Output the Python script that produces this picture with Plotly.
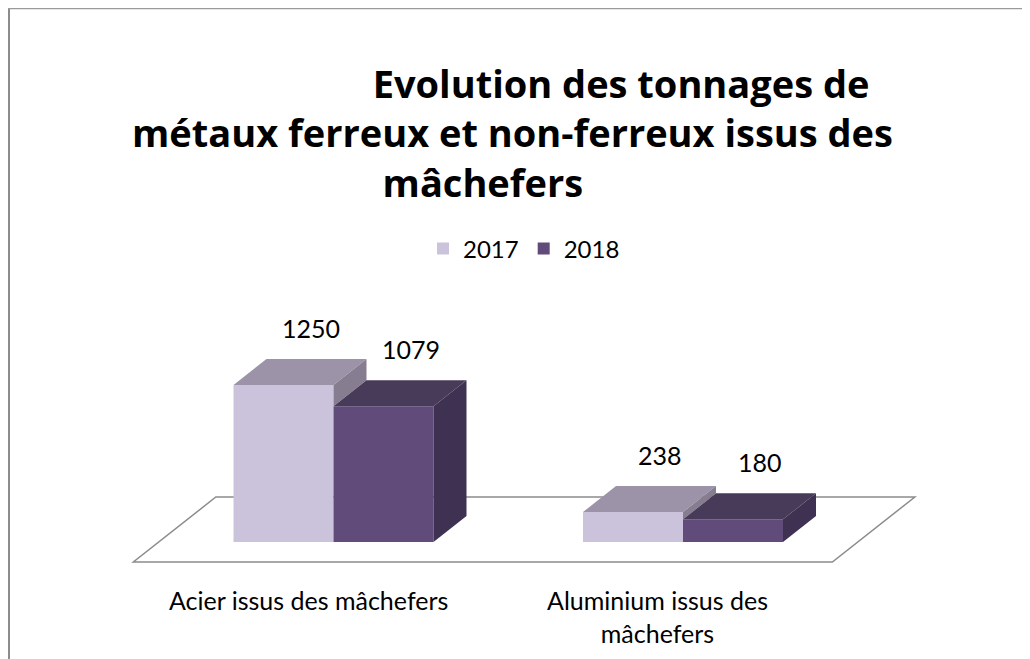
import plotly.graph_objects as go

# ---------------- data ----------------
categories = ["Acier issus des mâchefers", "Aluminium issus des<br>mâchefers"]
series_names = ["2017", "2018"]
values_2017 = [1250, 238]
values_2018 = [1079, 180]
series_values = [values_2017, values_2018]
title_lines = ["Evolution des tonnages de",
               "métaux ferreux et non-ferreux issus des",
               "mâchefers"]

# ---------------- styles ----------------
FRONT = ["#CBC3DC", "#604B7B"]
TOP = ["#9D93A8", "#483A59"]
SIDE = ["#877D91", "#3F3151"]
LABEL_FONT = "Lato, sans-serif"
TITLE_FONT = "Open Sans, sans-serif"

W, H = 1022, 651        # page body keeps an 8px margin
PX_CAT = 349.5          # pixels per category step
PX_VAL = 0.1257         # pixels per value unit
X0_PX, Y0_PX = 325.5, 534
BAR_W = 100 / PX_CAT
DX = 33 / PX_CAT        # 3D depth offset (x, in category units)
DY = 26 / PX_VAL        # 3D depth offset (y, in value units)
FLOOR_FRONT, FLOOR_BACK = -0.77, 1.73

x_range = [-X0_PX / PX_CAT, (W - X0_PX) / PX_CAT]
y_range = [-(H - Y0_PX) / PX_VAL, Y0_PX / PX_VAL]

fig = go.Figure()
xs = list(range(len(categories)))
n = len(series_names)

# front faces
for s, (name, vals) in enumerate(zip(series_names, series_values)):
    fig.add_trace(go.Bar(
        x=xs, y=vals, name=name, width=BAR_W, offset=(s - n / 2) * BAR_W,
        marker=dict(color=FRONT[s], line=dict(width=0)), hoverinfo="skip"))

# top and side faces
for s, vals in enumerate(series_values):
    for i, v in enumerate(vals):
        left = i + (s - n / 2) * BAR_W
        right = left + BAR_W
        fig.add_trace(go.Scatter(
            x=[left, right, right + DX, left + DX, left],
            y=[v, v, v + DY, v + DY, v],
            fill="toself", fillcolor=TOP[s], mode="lines", line=dict(width=0),
            showlegend=False, hoverinfo="skip"))
        bottom = series_values[s + 1][i] if s + 1 < n else 0
        if bottom < v:
            fig.add_trace(go.Scatter(
                x=[right, right + DX, right + DX, right, right],
                y=[bottom, bottom + DY, v + DY, v, bottom],
                fill="toself", fillcolor=SIDE[s], mode="lines", line=dict(width=0),
                showlegend=False, hoverinfo="skip"))

# floor (drawn below the bars)
fx0, fx1 = -0.5, len(categories) - 0.5
floor = [(fx0 + FLOOR_FRONT * DX, FLOOR_FRONT * DY),
         (fx1 + FLOOR_FRONT * DX, FLOOR_FRONT * DY),
         (fx1 + FLOOR_BACK * DX, FLOOR_BACK * DY),
         (fx0 + FLOOR_BACK * DX, FLOOR_BACK * DY)]
path = "M " + " L ".join(f"{x},{y}" for x, y in floor) + " Z"
shapes = [dict(type="path", path=path, xref="x", yref="y", layer="below",
               line=dict(color="#8C8C8C", width=1.5), fillcolor="rgba(0,0,0,0)")]

# chart frame
shapes.append(dict(type="line", xref="paper", yref="paper", x0=1 / W, x1=1 / W,
                   y0=0, y1=1 - 0.5 / H, line=dict(color="#8C8C8C", width=2)))
shapes.append(dict(type="line", xref="paper", yref="paper", x0=0, x1=1,
                   y0=1 - 0.5 / H, y1=1 - 0.5 / H, line=dict(color="#9A9A9A", width=1.5)))

annotations = []
# data labels
for s, vals in enumerate(series_values):
    for i, v in enumerate(vals):
        cx = i + (s - n / 2 + 0.5) * BAR_W
        annotations.append(dict(x=cx, y=v, xref="x", yref="y", text=str(v),
                                showarrow=False, xshift=27, yshift=57,
                                font=dict(family=LABEL_FONT, size=25, color="#000")))
# category labels
for i, c in enumerate(categories):
    annotations.append(dict(x=i + FLOOR_FRONT * DX, y=1 - 575 / H, xref="x", yref="paper",
                            text=c, showarrow=False, yanchor="top",
                            font=dict(family=LABEL_FONT, size=25, color="#000")))
# title (one block; no-break spaces reproduce the original line offsets)
NB = "&nbsp;"
title_text = "<br>".join([NB * 22 + title_lines[0],
                          title_lines[1],
                          title_lines[2] + NB * 6])
annotations.append(dict(x=504 / W, y=1 - 124 / H, xref="paper", yref="paper",
                        text=f"<b>{title_text}</b>", showarrow=False, yanchor="middle",
                        align="center",
                        font=dict(family=TITLE_FONT, size=38, color="#000")))

fig.update_layout(
    width=W, height=H, margin=dict(l=0, r=0, t=0, b=0),
    paper_bgcolor="white", plot_bgcolor="white",
    barmode="overlay",
    xaxis=dict(visible=False, range=x_range, fixedrange=True),
    yaxis=dict(visible=False, range=y_range, fixedrange=True),
    shapes=shapes, annotations=annotations,
    legend=dict(orientation="h", x=516 / W, xanchor="center", y=1 - 241 / H, yanchor="middle",
                font=dict(family=LABEL_FONT, size=24, color="#000"),
                bgcolor="rgba(0,0,0,0)", itemclick=False, itemdoubleclick=False),
    showlegend=True,
)

fig.write_html("out.html")
